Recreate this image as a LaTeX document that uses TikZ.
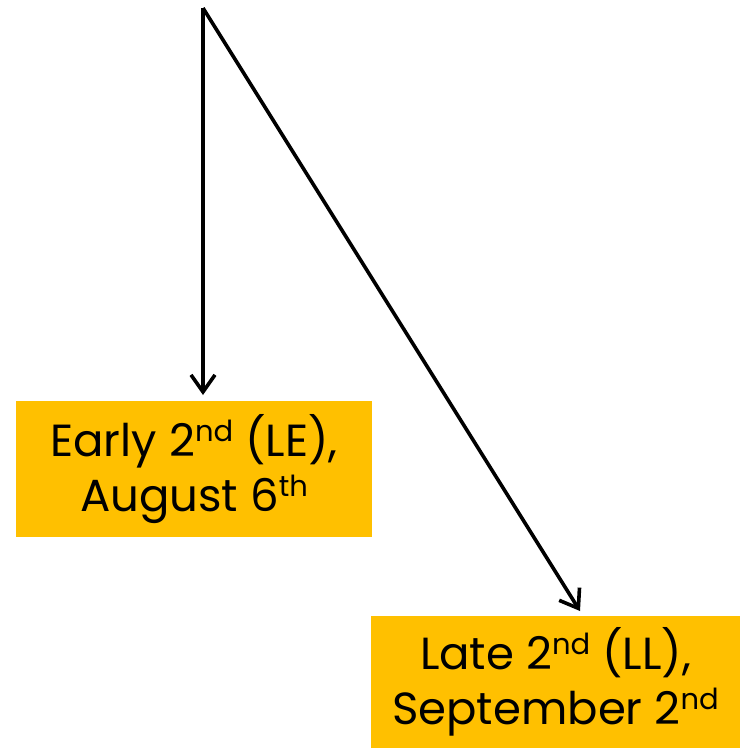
\documentclass[tikz,border=0pt]{standalone}
\usepackage{fontspec}
\setmainfont{Poppins}
\usetikzlibrary{arrows.meta,calc}
\newcommand{\sups}[1]{\raisebox{0.62ex}{\fontsize{29}{29}\selectfont #1}}
\tikzset{
  datebox/.style={fill=boxorange, inner sep=0pt, align=center,
    font=\fontsize{45}{55}\selectfont},
  flow/.style={line width=3.6pt, -{Straight Barb[length=17pt,width=24pt,line width=3.6pt]}}
}
\definecolor{boxorange}{HTML}{FFC000}
\begin{document}
\begin{tikzpicture}[x=1pt,y=-1pt]
  \useasboundingbox (0,0) rectangle (744,748);
  \node[datebox, minimum width=356pt, minimum height=136pt] (early) at (194,469)
    {Early 2\sups{nd} (LE),\\ August 6\sups{th}};
  \node[datebox, minimum width=369pt, minimum height=132pt] (late) at (555.5,682)
    {Late 2\sups{nd} (LL),\\ September 2\sups{nd}};
  \coordinate (origin) at (203,8);
  \coordinate (tipE) at (203,395);
  \coordinate (tipL) at (580,611);
  \draw[flow] (origin) -- (tipE);
  \draw[flow] (origin) -- (tipL);
\end{tikzpicture}
\end{document}
